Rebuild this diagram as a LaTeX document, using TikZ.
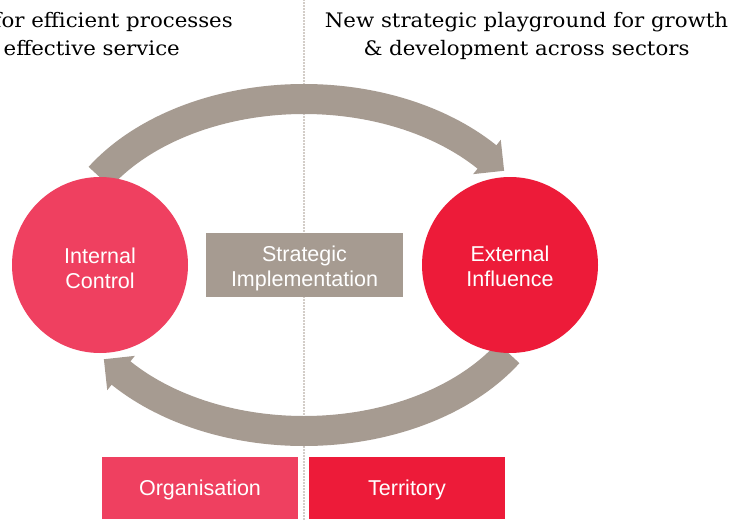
\documentclass[tikz,border=0pt]{standalone}
\usepackage{fontspec}
\setmainfont{DejaVu Serif}
\newfontfamily\labelfont{Liberation Sans}
\newfontfamily\headfont[FakeStretch=1.065]{DejaVu Serif}
\usetikzlibrary{calc}
\definecolor{arrowgray}{HTML}{A69B91}
\definecolor{pinkred}{HTML}{EF4060}
\definecolor{deepred}{HTML}{ED1B39}
\begin{document}
\begin{tikzpicture}[x=1pt,y=1pt,
  band/.style={draw=arrowgray, line width=30pt, line cap=butt},
  head/.style={fill=arrowgray},
  disc/.style={circle, minimum size=176pt, inner sep=0pt},
  tag/.style={rectangle, minimum width=196pt, minimum height=62pt, inner sep=0pt},
  lbl/.style={text=white, font=\labelfont\fontsize{21.5}{25}\selectfont, align=center, inner sep=0pt},
  caption/.style={font=\headfont\fontsize{20}{28}\selectfont, text=black, inner sep=0pt},
  divider/.style={draw=arrowgray, line width=1.8pt, dash pattern=on 0pt off 3pt, line cap=round}
]
\useasboundingbox (0,0) rectangle (741,-519);
\fill[white] (0,0) rectangle (741,-519);
\coordinate (C) at (304,-265);
\coordinate (dtop) at (304,0);
\coordinate (dbot) at (304,-519);
\draw[divider] (dtop) -- (dbot);

% top arrow
\coordinate (a1s) at ($(C)+(148:241 and 166)$);
\coordinate (M1) at ($(C)+(40.6:241 and 166)$);
\draw[band] (a1s) arc[start angle=148, end angle=39.8, x radius=241, y radius=166];
\fill[head, shift={(M1)}, rotate=-38.8] (0,22) -- (22,0) -- (0,-22) -- cycle;

% bottom arrow
\coordinate (a2s) at ($(C)+(328:241 and 166)$);
\coordinate (M2) at ($(C)+(220.6:241 and 166)$);
\draw[band] (a2s) arc[start angle=328, end angle=219.8, x radius=241, y radius=166];
\fill[head, shift={(M2)}, rotate=141.2] (0,22) -- (22,0) -- (0,-22) -- cycle;

\node[disc, fill=pinkred] (ic) at (100,-265) {};
\node[disc, fill=deepred] (ei) at (510,-265) {};
\node[tag, fill=arrowgray, minimum width=197pt, minimum height=64pt] (si) at (304.5,-265) {};
\node[tag, fill=pinkred] (org) at (200,-488) {};
\node[tag, fill=deepred] (ter) at (407,-488) {};

\node[lbl] (ict) at ([yshift=-3pt]ic.center) {Internal\\Control};
\node[lbl] (eit) at ([yshift=-1pt]ei.center) {External\\Influence};
\node[lbl] (sit) at ([yshift=-3pt]si.center) {Strategic\\Implementation};
\node[lbl] (orgt) at ([yshift=-2pt]org.center) {Organisation};
\node[lbl] (tert) at ([yshift=-2pt]ter.center) {Territory};

\node[caption, anchor=base] (r1) at (526.5,-27.5) {New strategic playground for growth};
\node[caption, anchor=base] (r2) at (526.5,-55.5) {\& development across sectors};
\node[caption, anchor=base east] (l1) at (233,-27.5) {for efficient processes};
\node[caption, anchor=base east] (l2) at (180,-55.5) {effective service};
\end{tikzpicture}
\end{document}
